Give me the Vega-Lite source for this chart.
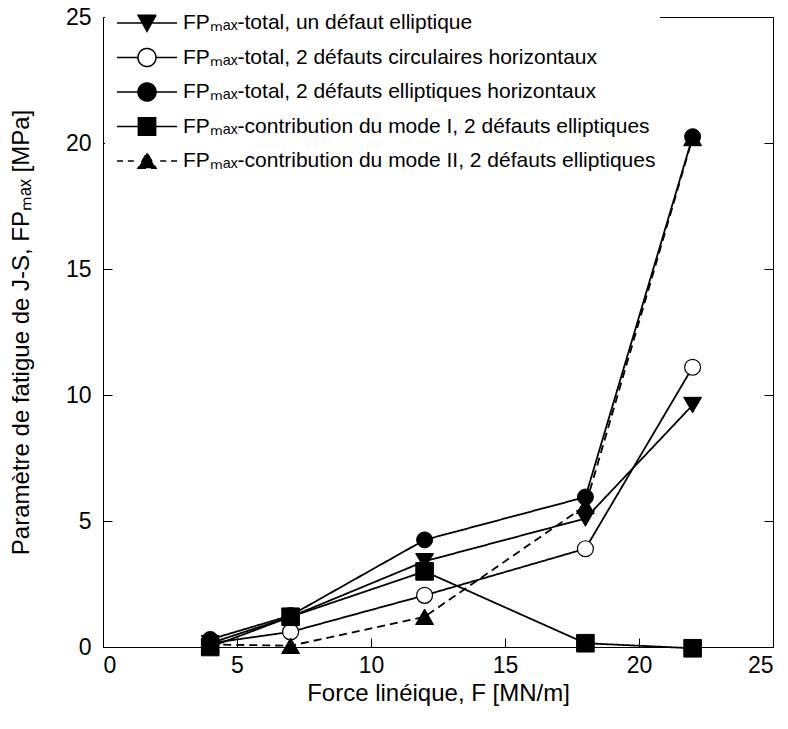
{
  "$schema": "https://vega.github.io/schema/vega-lite/v6.json",
  "width": 670,
  "height": 630,
  "autosize": {"type": "none"},
  "padding": {"left": 103, "top": 17, "right": 15, "bottom": 82},
  "background": "white",
  "config": {
    "view": {"stroke": "black", "strokeWidth": 1},
    "font": "Liberation Sans",
    "axis": {
      "domainColor": "black", "domainWidth": 1,
      "tickColor": "black", "tickWidth": 1, "tickSize": -9,
      "labelColor": "black", "titleColor": "black",
      "labelFont": "Liberation Sans", "titleFont": "Liberation Sans",
      "labelFontSize": 23, "titleFontSize": 24, "titleFontWeight": "normal",
      "grid": false
    }
  },
  "datasets": {
    "pts": [
      {"F": 4, "FP": 0.15, "serie": "FPₘₐₓ-total, un défaut elliptique"},
      {"F": 7, "FP": 1.2, "serie": "FPₘₐₓ-total, un défaut elliptique"},
      {"F": 12, "FP": 3.4, "serie": "FPₘₐₓ-total, un défaut elliptique"},
      {"F": 18, "FP": 5.1, "serie": "FPₘₐₓ-total, un défaut elliptique"},
      {"F": 22, "FP": 9.6, "serie": "FPₘₐₓ-total, un défaut elliptique"},
      {"F": 4, "FP": 0.15, "serie": "FPₘₐₓ-total, 2 défauts circulaires horizontaux"},
      {"F": 7, "FP": 0.6, "serie": "FPₘₐₓ-total, 2 défauts circulaires horizontaux"},
      {"F": 12, "FP": 2.05, "serie": "FPₘₐₓ-total, 2 défauts circulaires horizontaux"},
      {"F": 18, "FP": 3.9, "serie": "FPₘₐₓ-total, 2 défauts circulaires horizontaux"},
      {"F": 22, "FP": 11.1, "serie": "FPₘₐₓ-total, 2 défauts circulaires horizontaux"},
      {"F": 4, "FP": 0.3, "serie": "FPₘₐₓ-total, 2 défauts elliptiques horizontaux"},
      {"F": 7, "FP": 1.25, "serie": "FPₘₐₓ-total, 2 défauts elliptiques horizontaux"},
      {"F": 12, "FP": 4.25, "serie": "FPₘₐₓ-total, 2 défauts elliptiques horizontaux"},
      {"F": 18, "FP": 5.95, "serie": "FPₘₐₓ-total, 2 défauts elliptiques horizontaux"},
      {"F": 22, "FP": 20.25, "serie": "FPₘₐₓ-total, 2 défauts elliptiques horizontaux"},
      {"F": 4, "FP": 0.0, "serie": "FPₘₐₓ-contribution du mode I, 2 défauts elliptiques"},
      {"F": 7, "FP": 1.2, "serie": "FPₘₐₓ-contribution du mode I, 2 défauts elliptiques"},
      {"F": 12, "FP": 3.0, "serie": "FPₘₐₓ-contribution du mode I, 2 défauts elliptiques"},
      {"F": 18, "FP": 0.15, "serie": "FPₘₐₓ-contribution du mode I, 2 défauts elliptiques"},
      {"F": 22, "FP": -0.05, "serie": "FPₘₐₓ-contribution du mode I, 2 défauts elliptiques"},
      {"F": 4, "FP": 0.1, "serie": "FPₘₐₓ-contribution du mode II, 2 défauts elliptiques"},
      {"F": 7, "FP": 0.05, "serie": "FPₘₐₓ-contribution du mode II, 2 défauts elliptiques"},
      {"F": 12, "FP": 1.2, "serie": "FPₘₐₓ-contribution du mode II, 2 défauts elliptiques"},
      {"F": 18, "FP": 5.6, "serie": "FPₘₐₓ-contribution du mode II, 2 défauts elliptiques"},
      {"F": 22, "FP": 20.2, "serie": "FPₘₐₓ-contribution du mode II, 2 défauts elliptiques"}
    ]
  },
  "data": {"name": "pts"},
  "encoding": {
    "x": {
      "field": "F", "type": "quantitative",
      "scale": {"domain": [0, 25], "nice": false, "zero": false},
      "axis": {"values": [0, 5, 10, 15, 20, 25], "title": "Force linéique, F [MN/m]", "labelPadding": 16, "titlePadding": 4}
    }
  },
  "layer": [
    {
      "mark": {"type": "point", "filled": true, "stroke": "black", "strokeWidth": 1.5, "size": 576, "opacity": 0},
      "encoding": {
        "y": {"field": "FP", "type": "quantitative", "scale": {"domain": [0, 25], "nice": false, "zero": false}, "axis": null},
        "shape": {
          "field": "serie", "type": "nominal",
          "scale": {
            "domain": ["FPₘₐₓ-total, un défaut elliptique", "FPₘₐₓ-total, 2 défauts circulaires horizontaux", "FPₘₐₓ-total, 2 défauts elliptiques horizontaux", "FPₘₐₓ-contribution du mode I, 2 défauts elliptiques", "FPₘₐₓ-contribution du mode II, 2 défauts elliptiques"],
            "range": [
              "M-2.5,0H2.5M-0.75,-0.65L0.75,-0.65L0,0.7Z",
              "M-2.5,0H-0.75M0.75,0H2.5M-0.75,0A0.75,0.75 0 1,1 0.75,0A0.75,0.75 0 1,1 -0.75,0Z",
              "M-2.5,0H2.5M-0.75,0A0.75,0.75 0 1,1 0.75,0A0.75,0.75 0 1,1 -0.75,0Z",
              "M-2.5,0H2.5M-0.72,-0.72H0.72V0.72H-0.72Z",
              "M-2.5,0H-2.0M-1.6,0H-1.1M1.1,0H1.6M2.0,0H2.5M-0.75,0.6L0.75,0.6L0,-0.7Z"
            ]
          },
          "legend": {
            "orient": "none", "legendX": 2, "legendY": -11, "title": null,
            "fillColor": "white", "padding": 4, "rowPadding": 9.5,
            "symbolOffset": 25, "labelOffset": 23, "symbolOpacity": 1,
            "symbolSize": 576, "symbolStrokeColor": "black", "symbolStrokeWidth": 1.5,
            "labelFont": "Liberation Sans", "labelFontSize": 21, "labelColor": "black", "labelLimit": 700,
            "encode": {"symbols": {"update": {"stroke": {"value": "black"}, "strokeWidth": {"value": 1.5}, "strokeOpacity": {"value": 1}, "opacity": {"value": 1}}}}
          }
        },
        "fill": {
          "field": "serie", "type": "nominal",
          "scale": {
            "domain": ["FPₘₐₓ-total, un défaut elliptique", "FPₘₐₓ-total, 2 défauts circulaires horizontaux", "FPₘₐₓ-total, 2 défauts elliptiques horizontaux", "FPₘₐₓ-contribution du mode I, 2 défauts elliptiques", "FPₘₐₓ-contribution du mode II, 2 défauts elliptiques"],
            "range": ["black", "white", "black", "black", "black"]
          },
          "legend": {
            "orient": "none", "legendX": 2, "legendY": -11, "title": null,
            "fillColor": "white", "padding": 4, "rowPadding": 9.5,
            "symbolOffset": 25, "labelOffset": 23, "symbolOpacity": 1,
            "symbolSize": 576, "symbolStrokeColor": "black", "symbolStrokeWidth": 1.5,
            "labelFont": "Liberation Sans", "labelFontSize": 21, "labelColor": "black", "labelLimit": 700,
            "encode": {"symbols": {"update": {"stroke": {"value": "black"}, "strokeWidth": {"value": 1.5}, "strokeOpacity": {"value": 1}, "opacity": {"value": 1}}}}
          }
        }
      }
    },
    {
      "mark": {"type": "line", "stroke": "black", "strokeWidth": 1.8},
      "encoding": {
        "y": {
          "field": "FP", "type": "quantitative",
          "scale": {"domain": [0, 25], "nice": false, "zero": false},
          "axis": {"values": [0, 5, 10, 15, 20, 25], "title": "Paramètre de fatigue de J-S, FPₘₐₓ [MPa]", "labelPadding": 21, "titlePadding": 32}
        },
        "detail": {"field": "serie"},
        "strokeDash": {
          "field": "serie", "type": "nominal", "legend": null,
          "scale": {
            "domain": ["FPₘₐₓ-total, un défaut elliptique", "FPₘₐₓ-total, 2 défauts circulaires horizontaux", "FPₘₐₓ-total, 2 défauts elliptiques horizontaux", "FPₘₐₓ-contribution du mode I, 2 défauts elliptiques", "FPₘₐₓ-contribution du mode II, 2 défauts elliptiques"],
            "range": [[1, 0], [1, 0], [1, 0], [1, 0], [8, 5]]
          }
        }
      }
    },
    {
      "transform": [{"filter": {"field": "serie", "equal": "FPₘₐₓ-total, un défaut elliptique"}}],
      "mark": {"type": "point", "shape": "triangle-down", "filled": true, "fill": "black", "stroke": "black", "strokeWidth": 1, "size": 320, "opacity": 1},
      "encoding": {
        "y": {
          "field": "FP", "type": "quantitative",
          "scale": {"domain": [0, 25], "nice": false, "zero": false},
          "axis": {"orient": "right", "values": [0, 5, 10, 15, 20, 25], "labels": false, "title": null}
        }
      }
    },
    {
      "transform": [{"filter": {"field": "serie", "equal": "FPₘₐₓ-total, 2 défauts circulaires horizontaux"}}],
      "mark": {"type": "point", "shape": "circle", "filled": true, "fill": "white", "stroke": "black", "strokeWidth": 1.2, "size": 255, "opacity": 1},
      "encoding": {
        "y": {"field": "FP", "type": "quantitative", "scale": {"domain": [0, 25], "nice": false, "zero": false}, "axis": null}
      }
    },
    {
      "transform": [{"filter": {"field": "serie", "equal": "FPₘₐₓ-total, 2 défauts elliptiques horizontaux"}}],
      "mark": {"type": "point", "shape": "circle", "filled": true, "fill": "black", "stroke": "black", "strokeWidth": 1, "size": 255, "opacity": 1},
      "encoding": {
        "y": {"field": "FP", "type": "quantitative", "scale": {"domain": [0, 25], "nice": false, "zero": false}, "axis": null}
      }
    },
    {
      "transform": [{"filter": {"field": "serie", "equal": "FPₘₐₓ-contribution du mode I, 2 défauts elliptiques"}}],
      "mark": {"type": "point", "shape": "square", "filled": true, "fill": "black", "stroke": "black", "strokeWidth": 1, "size": 310, "opacity": 1},
      "encoding": {
        "y": {"field": "FP", "type": "quantitative", "scale": {"domain": [0, 25], "nice": false, "zero": false}, "axis": null}
      }
    },
    {
      "transform": [{"filter": {"field": "serie", "equal": "FPₘₐₓ-contribution du mode II, 2 défauts elliptiques"}}],
      "mark": {"type": "point", "shape": "triangle-up", "filled": true, "fill": "black", "stroke": "black", "strokeWidth": 1, "size": 320, "opacity": 1},
      "encoding": {
        "y": {"field": "FP", "type": "quantitative", "scale": {"domain": [0, 25], "nice": false, "zero": false}, "axis": null}
      }
    }
  ],
  "resolve": {
    "axis": {"y": "independent"}
  }
}
